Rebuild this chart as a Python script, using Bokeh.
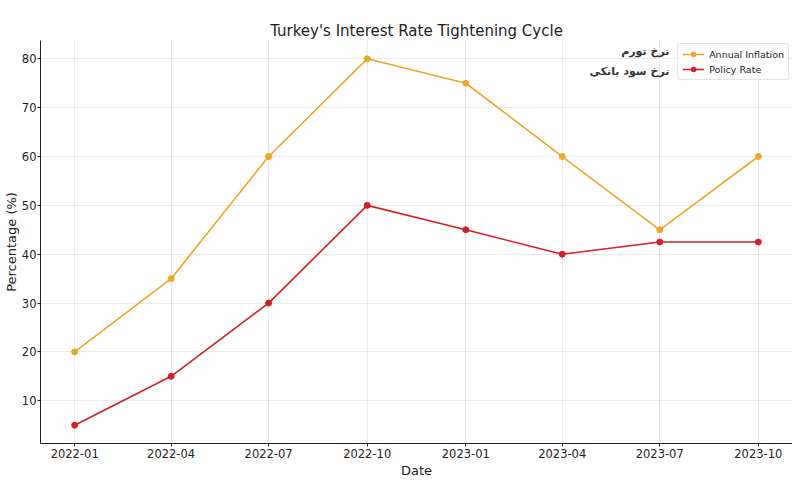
from datetime import datetime, timedelta
from bokeh.plotting import figure
from bokeh.models import Range1d, FixedTicker, DatetimeTickFormatter, Legend, LegendItem, Label
from bokeh.embed import file_html
from bokeh.resources import INLINE

dates = ["2022-01", "2022-04", "2022-07", "2022-10", "2023-01", "2023-04", "2023-07", "2023-10"]
inflation = [20, 35, 60, 80, 75, 60, 45, 60]
policy_rate = [5, 15, 30, 50, 45, 40, 42.5, 42.5]
y_ticks = [10, 20, 30, 40, 50, 60, 70, 80]
fa_labels = ["نرخ تورم", "نرخ سود بانکی"]

x = [datetime.strptime(d, "%Y-%m") for d in dates]
span = x[-1] - x[0]
pad = span * 0.05
allv = inflation + policy_rate
ymin, ymax = min(allv), max(allv)
ypad = (ymax - ymin) * 0.05

FONT = "DejaVu Sans"
c_inf = "#E8A823"
c_pol = "#D1202A"

p = figure(frame_width=752, frame_height=403, x_axis_type="datetime", output_backend="svg",
           toolbar_location=None, min_border_left=32, min_border_right=0,
           min_border_top=40, min_border_bottom=40)
p.x_range = Range1d(x[0] - pad, x[-1] + pad)
p.y_range = Range1d(ymin - ypad, ymax + ypad)

p.title.text = "Turkey's Interest Rate Tightening Cycle"
p.title.align = "center"
p.title.text_font = FONT
p.title.text_font_size = "15px"
p.title.text_font_style = "normal"
p.title.text_color = "#222222"
p.title.standoff = 2

p.outline_line_color = None
p.background_fill_color = "white"
p.border_fill_color = "white"

r1l = p.line(x, inflation, line_color=c_inf, line_width=1.6)
r1s = p.scatter(x, inflation, size=6, fill_color=c_inf, line_color=c_inf)
r2l = p.line(x, policy_rate, line_color=c_pol, line_width=1.6)
r2s = p.scatter(x, policy_rate, size=6, fill_color=c_pol, line_color=c_pol)

legend = Legend(items=[LegendItem(label="Annual Inflation", renderers=[r1l, r1s]),
                       LegendItem(label="Policy Rate", renderers=[r2l, r2s])],
                location="top_right")
legend.margin = 3
legend.padding = 4
legend.spacing = 3
legend.label_standoff = 5
legend.label_text_font = FONT
legend.label_text_font_size = "9.5px"
legend.label_text_color = "#222222"
legend.label_height = 12
legend.glyph_height = 12
legend.glyph_width = 22
legend.border_line_color = "#cccccc"
legend.border_radius = 3
legend.background_fill_alpha = 0.9
p.add_layout(legend)

label_x = x[-2] + timedelta(days=9)
for txt, yv in zip(fa_labels, [81.6, 77.5]):
    p.add_layout(Label(x=label_x, y=yv, text=txt, text_align="right", text_baseline="middle",
                       text_font=FONT, text_font_size="11px", text_font_style="bold",
                       text_color="#333333"))

p.xaxis.ticker = FixedTicker(ticks=[d.timestamp() * 1000 for d in x])
p.xaxis.formatter = DatetimeTickFormatter(months="%Y-%m", days="%Y-%m", years="%Y-%m")
p.yaxis.ticker = FixedTicker(ticks=y_ticks)

p.xaxis.axis_label = "Date"
p.yaxis.axis_label = "Percentage (%)"
for ax in (p.xaxis, p.yaxis):
    ax.axis_label_text_font = FONT
    ax.axis_label_text_font_size = "13px"
    ax.axis_label_text_font_style = "normal"
    ax.axis_label_text_color = "#222222"
    ax.major_label_text_font = FONT
    ax.major_label_text_font_size = "11.5px"
    ax.major_label_text_color = "#222222"
    ax.axis_line_color = "#222222"
    ax.major_tick_line_color = "#222222"
    ax.major_tick_out = 3
    ax.major_tick_in = 0
    ax.minor_tick_line_color = None
    ax.major_label_standoff = 2
    ax.axis_label_standoff = 2
p.yaxis.major_label_standoff = 1
p.yaxis.axis_label_standoff = 0

p.grid.grid_line_color = "#e4e4e4"
p.grid.grid_line_width = 0.8

open("out.html", "w").write(file_html(p, INLINE))
